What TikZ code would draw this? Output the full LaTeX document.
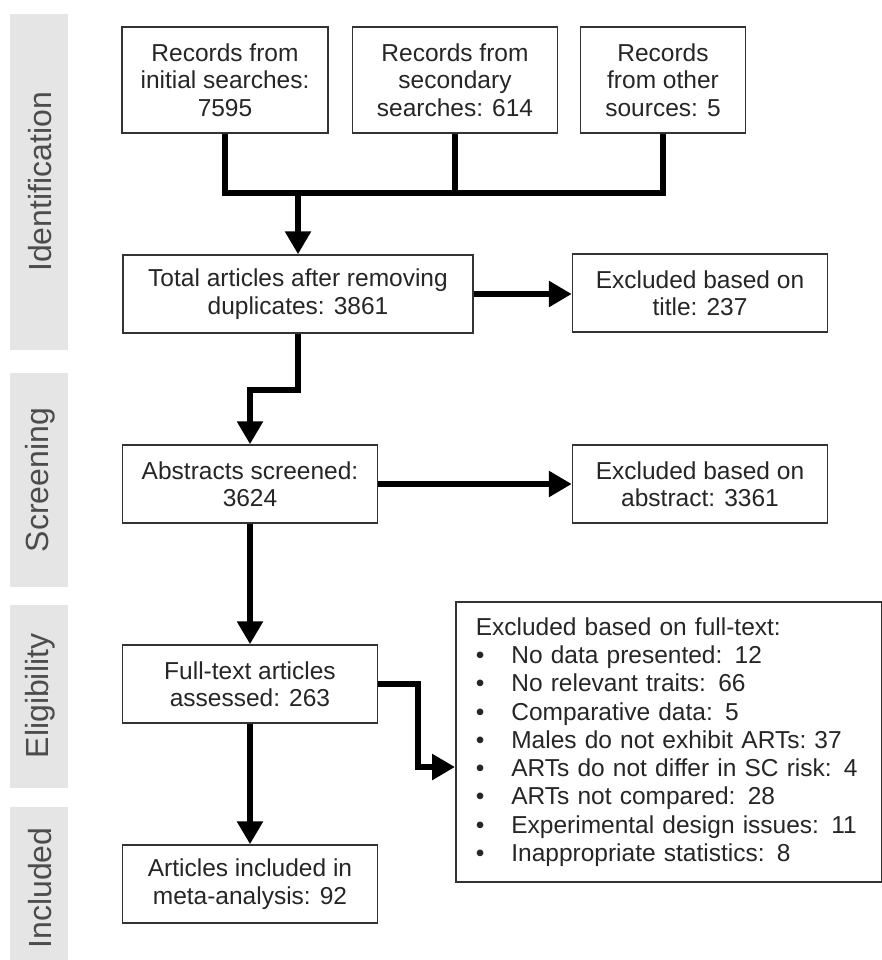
\documentclass[tikz,border=0pt]{standalone}
\usepackage{fontspec}
\setmainfont{Liberation Sans}
\usetikzlibrary{arrows.meta,positioning,calc}

\begin{document}
\begin{tikzpicture}[
  x=1pt,y=-1pt,
  font=\fontsize{24.5}{27.5}\selectfont,>={Triangle[length=23pt,width=25pt]},
  box/.style={draw=black!80,line width=1.5pt,fill=white,align=center,
              text=black!85,inner sep=0pt,minimum height=78pt},
  conn/.style={line width=6pt,black},
  phase/.style={fill=black!10,draw=none},
  phaselab/.style={rotate=90,text=black!70,font=\fontsize{32}{36}\selectfont},
]
\useasboundingbox (0,0) rectangle (882,960);

% ---- phase bars on the left -------------------------------------------
\fill[phase] (10,14) rectangle (68,350);
\fill[phase] (10,373) rectangle (68,587);
\fill[phase] (10,605) rectangle (68,788);
\fill[phase] (10,807) rectangle (68,960);
\node[phaselab] (idlab) at (40,182) {Identification};
\node[phaselab] (sclab) at (40,480) {Screening};
\node[phaselab] (ellab) at (40,696) {Eligibility};
\node[phaselab] (inlab) at (40,888) {Included};

% ---- record sources -----------------------------------------------------
\node[box,minimum width=206pt,minimum height=106pt] (rec1) at (225,80)
   {Records from\\initial searches:\\7595};
\node[box,minimum width=205pt,minimum height=106pt] (rec2) at (455,80)
   {Records from\\secondary\\searches: 614};
\node[box,minimum width=165pt,minimum height=106pt] (rec3) at (663,80)
   {Records\\from other\\sources: 5};

% ---- main stream ---------------------------------------------------------
\node[box,minimum width=350pt] (total) at (298,294)
   {Total articles after removing\\duplicates: 3861};
\node[box,minimum width=255pt] (abstr) at (250,484)
   {Abstracts screened:\\3624};
\node[box,minimum width=255pt] (fulltext) at (250,684)
   {Full-text articles\\assessed: 263};
\node[box,minimum width=255pt] (incl) at (250,884)
   {Articles included in\\meta-analysis: 92};

% ---- exclusions ----------------------------------------------------------
\node[box,minimum width=255pt] (extitle) at (700,293)
   {Excluded based on\\title: 237};
\node[box,minimum width=255pt] (exabs) at (700,484)
   {Excluded based on\\abstract: 3361};
\node[box,anchor=west,align=left,text width=386pt,inner xsep=20pt,
      minimum height=280pt,font=\fontsize{24.5}{28.3}\selectfont] (exfull) at (455,742)
   {Excluded based on full-text:\\
    \textbullet\hspace{27pt}No data presented: 12\\
    \textbullet\hspace{27pt}No relevant traits: 66\\
    \textbullet\hspace{27pt}Comparative data: 5\\
    \textbullet\hspace{27pt}Males do not exhibit ARTs:\ 37\\
    \textbullet\hspace{27pt}ARTs do not differ in SC risk: 4\\
    \textbullet\hspace{27pt}ARTs not compared: 28\\
    \textbullet\hspace{27pt}Experimental design issues: 11\\
    \textbullet\hspace{27pt}Inappropriate statistics: 8};

% ---- connectors ----------------------------------------------------------
\coordinate (join) at (298,193);
\coordinate (kink) at (298,390);
\coordinate (elbow) at (418,767);
\draw[conn] (rec1.south) |- (join) -| (rec3.south);
\draw[conn] (rec2.south) -- (rec2.south |- join);
\draw[conn,->] (join) -- (total.north);
\draw[conn,->] (total.east) -- (total.east -| extitle.west);
\draw[conn,->] (total.south) -- (kink) -| (abstr.north);
\draw[conn,->] (abstr.east) -- (exabs.west);
\draw[conn,->] (abstr.south) -- (fulltext.north);
\draw[conn,->] (fulltext.east) -| (elbow) -- (elbow -| exfull.west);
\draw[conn,->] (fulltext.south) -- (incl.north);
\end{tikzpicture}
\end{document}
